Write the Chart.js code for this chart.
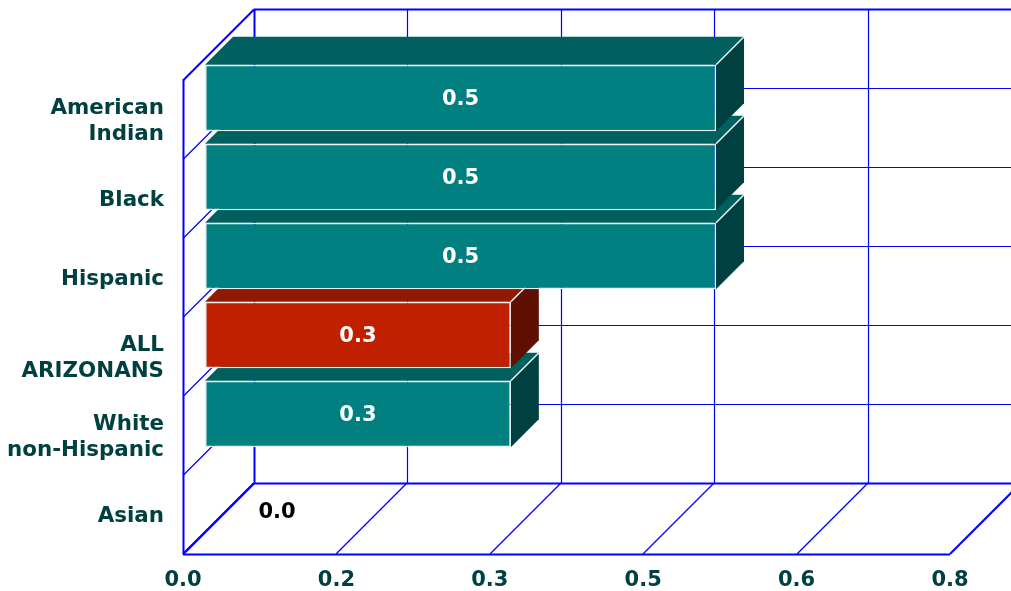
<!DOCTYPE html>
<html>
<head>
<meta charset="utf-8">
<style>html,body{margin:0;padding:0;background:#fff}canvas{display:block}</style>
<script src="https://cdn.jsdelivr.net/npm/chart.js@4"></script>
</head>
<body>
<canvas id="c" width="1011" height="591"></canvas>
<script>
const categories = [["American","Indian"],["Black"],["Hispanic"],["ALL","ARIZONANS"],["White","non-Hispanic"],["Asian"]];
const values = [0.533,0.533,0.533,0.319,0.319,0.0];
const xTicks = [0,0.16,0.32,0.48,0.64,0.8];
const highlightIndex = 3;

const FONT = '"DejaVu Sans"';
const DEPTH = 71, BAR_DEPTH = 28, BAR_OFF = 22, BAR_OFF_Y = 21.5;
const BLUE = '#0000FF';
const col = (i, a, b) => i === highlightIndex ? a : b;

function line(ctx, x1, y1, x2, y2, w, color) {
  ctx.beginPath();
  ctx.moveTo(x1, y1); ctx.lineTo(x2, y2);
  ctx.lineWidth = w; ctx.strokeStyle = color || BLUE; ctx.stroke();
}
function poly(ctx, pts, fill) {
  ctx.beginPath();
  pts.forEach((p, i) => i ? ctx.lineTo(p[0], p[1]) : ctx.moveTo(p[0], p[1]));
  ctx.closePath(); ctx.fillStyle = fill; ctx.fill();
}

const frame3d = {
  id: 'frame3d',
  beforeDraw(chart) {
    // nudge the category labels down to their reference baseline
    const items = chart.scales.y.getLabelItems();
    if (!items._nudged) {
      items.forEach(it => { it.options.translation[1] += 2; });
      items._nudged = true;
    }
  },
  beforeDatasetsDraw(chart) {
    const { ctx, chartArea: a, scales: { x, y } } = chart;
    const W = a.right - a.left;
    ctx.save();
    const band = y.getPixelForTick(1) - y.getPixelForTick(0);
    for (let i = 0; i <= categories.length; i++) {
      const py = Math.round(i < categories.length ? y.getPixelForTick(i) - band / 2 : a.bottom);
      const outer = i === 0 || i === categories.length;
      line(ctx, a.left, py + 0.5, a.left + DEPTH, py - DEPTH + 0.5, outer ? 2 : 1.3);
      line(ctx, a.left + DEPTH, py - DEPTH + 0.5, a.left + DEPTH + W, py - DEPTH + 0.5, outer ? 2 : 1.2);
    }
    xTicks.forEach((t, i) => {
      const px = Math.round(x.getPixelForValue(t));
      const outer = i === 0 || i === xTicks.length - 1;
      line(ctx, px + DEPTH + 0.5, a.top - DEPTH, px + DEPTH + 0.5, a.bottom - DEPTH, i === 0 ? 2 : 1.2);
      line(ctx, px, a.bottom, px + DEPTH, a.bottom - DEPTH, outer ? 2 : 1.3);
    });
    line(ctx, a.left + 0.5, a.top, a.left + 0.5, a.bottom, 2);
    line(ctx, a.left, a.bottom + 0.5, a.right, a.bottom + 0.5, 2);
    ctx.restore();
  },
  beforeDatasetDraw(chart, args) {
    const { ctx } = chart;
    const els = args.meta.data;
    for (let i = els.length - 1; i >= 0; i--) {
      const el = els[i];
      if (values[i] === 0) continue;
      const x0 = el.base + BAR_OFF, x1 = el.x + BAR_OFF;
      const t = el.y - el.height / 2 - BAR_OFF_Y, b = el.y + el.height / 2 - BAR_OFF_Y;
      const d = BAR_DEPTH;
      ctx.save();
      poly(ctx, [[x0, t], [x0 + d, t - d], [x1 + d, t - d], [x1, t]], col(i, '#8F1A00', '#006060'));
      poly(ctx, [[x1, t], [x1 + d, t - d], [x1 + d, b - d], [x1, b]], col(i, '#5F1000', '#004040'));
      line(ctx, x1, t, x1 + d, t - d, 1.5, '#E6F2F2');
      ctx.translate(BAR_OFF, -BAR_OFF_Y);
      el.draw(ctx);
      ctx.restore();
    }
    return false;
  },
  afterDatasetsDraw(chart) {
    const { ctx } = chart;
    const els = chart.getDatasetMeta(0).data;
    ctx.save();
    ctx.font = 'bold 21px ' + FONT;
    ctx.textAlign = 'center';
    ctx.textBaseline = 'middle';
    els.forEach((el, i) => {
      const text = values[i].toFixed(1);
      if (values[i] === 0) {
        ctx.fillStyle = '#000000';
        ctx.fillText(text, el.x + 94, el.y - 2);
      } else {
        ctx.fillStyle = '#FFFFFF';
        ctx.fillText(text, (el.base + el.x) / 2 + BAR_OFF, el.y - BAR_OFF_Y + 2);
      }
    });
    ctx.restore();
  }
};

new Chart(document.getElementById('c'), {
  type: 'bar',
  data: {
    labels: categories,
    datasets: [{
      data: values,
      backgroundColor: values.map((v, i) => col(i, '#C02000', '#008080')),
      borderColor: '#E6F2F2',
      borderWidth: 1.5,
      borderSkipped: false,
      categoryPercentage: 1,
      barPercentage: 0.84
    }]
  },
  options: {
    indexAxis: 'y',
    responsive: false,
    animation: false,
    events: [],
    devicePixelRatio: 1,
    layout: { padding: { top: 80, right: 61, left: 0, bottom: 0 } },
    plugins: { legend: { display: false }, tooltip: { enabled: false }, title: { display: false } },
    scales: {
      x: {
        min: 0, max: 0.8,
        afterBuildTicks(s) { s.ticks = xTicks.map(v => ({ value: v })); },
        afterFit(s) { s.height = 37; s.paddingBottom = 0; s.paddingTop = 0; },
        grid: { display: false, drawTicks: false },
        border: { display: false },
        ticks: {
          padding: 14, maxRotation: 0, autoSkip: false, color: '#004040',
          font: { family: FONT, size: 21, weight: 'bold' },
          callback: v => Number(v).toFixed(1)
        }
      },
      y: {
        afterFit(s) { s.width = 183; s.paddingBottom = 0; s.paddingTop = 0; },
        grid: { display: false, drawTicks: false },
        border: { display: false },
        ticks: {
          padding: 19, autoSkip: false, color: '#004040',
          font: { family: FONT, size: 21.4, weight: 'bold', lineHeight: 1.22 }
        }
      }
    }
  },
  plugins: [frame3d]
});
</script>
</body>
</html>
